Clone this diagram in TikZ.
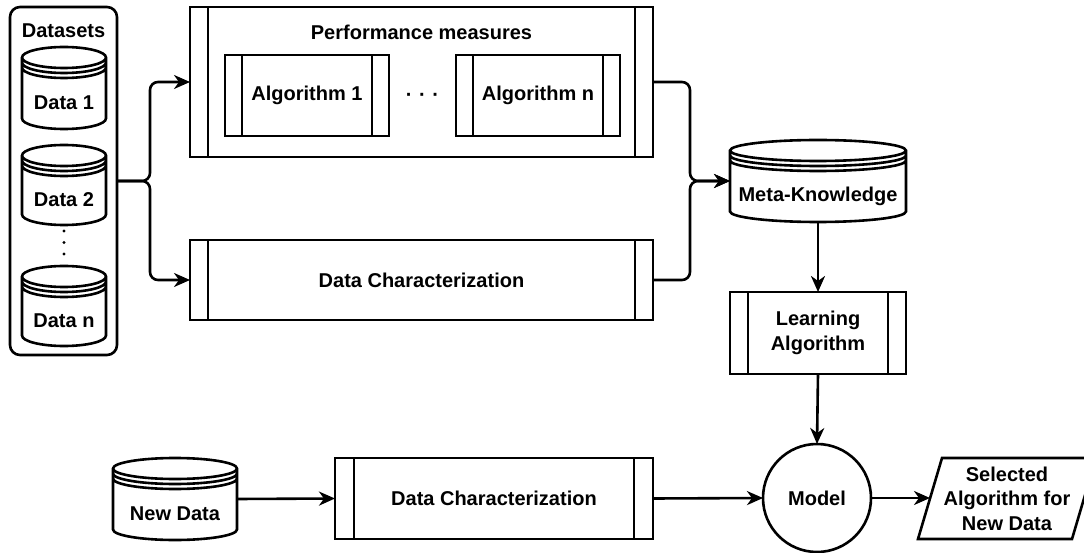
\documentclass[tikz,border=0pt]{standalone}
\usepackage{fontspec}
\setmainfont{Liberation Sans}
\usetikzlibrary{arrows.meta,shapes.geometric,calc}
\tikzset{
  base/.style={line width=2.6pt},
  box/.style={draw, base, rectangle, inner sep=0pt, outer sep=0pt},
  store/.style={rectangle, inner sep=0pt, outer sep=0pt},
  lbl/.style={yshift=-15pt},
  conn/.style={base, -{Stealth[length=16pt,width=14pt,inset=5pt]}, rounded corners=8pt},
  txt/.style={inner sep=0pt, align=center},
}
\newcommand\bars[2]{\draw[base] ([xshift=#2]#1.north west) -- ([xshift=#2]#1.south west)
  ([xshift=-#2]#1.north east) -- ([xshift=-#2]#1.south east);}
\newcommand\dstore[1]{\draw[base] let \p1=(#1.north west), \p2=(#1.south east), \n1={(\x2-\x1)/2} in
  (\x1,\y1-10.5pt) arc[start angle=180,end angle=0,x radius=\n1,y radius=10.5pt]
  -- (\x2,\y2+10.5pt) arc[start angle=0,end angle=-180,x radius=\n1,y radius=10.5pt] -- cycle
  (\x1,\y1-10.5pt) arc[start angle=180,end angle=360,x radius=\n1,y radius=10.5pt]
  (\x1,\y1-15.5pt) arc[start angle=180,end angle=360,x radius=\n1,y radius=10.5pt]
  (\x1,\y1-20.5pt) arc[start angle=180,end angle=360,x radius=\n1,y radius=10.5pt];}
\begin{document}
\begin{tikzpicture}[x=1pt,y=1pt,font=\bfseries\fontsize{20}{24.5}\selectfont]
\useasboundingbox (0,0) rectangle (1084,-553);
\clip (0,0) rectangle (1084,-553);

% Datasets group
\node[box, rounded corners=10pt, minimum width=107, minimum height=348] (ds) at (63.5,-181) {};
\node[txt] (dstitle) at (63.5,-31) {Datasets};
\node[store, minimum width=84, minimum height=82, label={[lbl]center:Data 1}] (d1) at (64,-88) {};
\node[store, minimum width=84, minimum height=80, label={[lbl]center:Data 2}] (d2) at (64,-185) {};
\node[store, minimum width=84, minimum height=80, label={[lbl]center:Data n}] (dn) at (64,-306) {};
\dstore{d1}\dstore{d2}\dstore{dn}
\fill (64,-231) circle (1.7pt) (64,-242.5) circle (1.7pt) (64,-254) circle (1.7pt);

% Performance measures
\node[box, minimum width=463, minimum height=150] (perf) at (421.5,-82) {};
\bars{perf}{18pt}
\node[txt] (perftitle) at (421.5,-32) {Performance measures};
\node[box, minimum width=164, minimum height=81] (alg1) at (307,-95.5) {Algorithm 1};
\bars{alg1}{17pt}
\node[box, minimum width=164, minimum height=81] (algn) at (538,-95.5) {Algorithm n};
\bars{algn}{17pt}
\node[txt] (hdots) at (422.5,-97) {·\,\,·\,\,·};

% Data characterization (top)
\node[box, minimum width=463, minimum height=80] (dc1) at (421.5,-280) {Data Characterization};
\bars{dc1}{18pt}

% Meta-knowledge
\node[store, minimum width=176, minimum height=82, label={[lbl]center:Meta-Knowledge}] (meta) at (818,-181) {};
\dstore{meta}

% Learning algorithm
\node[box, txt, minimum width=176, minimum height=82] (learn) at (818,-333) {Learning\\Algorithm};
\bars{learn}{18pt}

% Bottom row
\node[store, minimum width=124, minimum height=82, label={[lbl]center:New Data}] (nd) at (175,-499) {};
\dstore{nd}
\node[box, minimum width=318, minimum height=81] (dc2) at (494,-498.5) {Data Characterization};
\bars{dc2}{19pt}
\node[draw, base, circle, minimum size=108, inner sep=0pt, outer sep=0pt] (model) at (817,-498) {Model};
\node[txt] (sel) at (1007,-498.5) {Selected\\Algorithm for\\New Data};
\draw[base, line join=miter] (918,-539) -- (942,-458) -- (1096,-458) -- (1072,-539) -- cycle;
\coordinate (selin) at (930,-498);

% Connectors
\draw[conn] (ds.east) -- ++(33,0) |- (perf.west);
\draw[conn] (ds.east) -- ++(33,0) |- (dc1.west);
\draw[conn] (perf.east) -- ++(37,0) |- (meta.west);
\draw[conn] (dc1.east) -- ++(37,0) |- (meta.west);
\draw[conn] (meta.south) -- (learn.north);
\draw[conn] (learn.south) -- (model.north);
\draw[conn] (nd.east) -- (dc2.west);
\draw[conn] (dc2.east) -- (model.west);
\draw[conn] (model.east) -- (selin);
\end{tikzpicture}
\end{document}
